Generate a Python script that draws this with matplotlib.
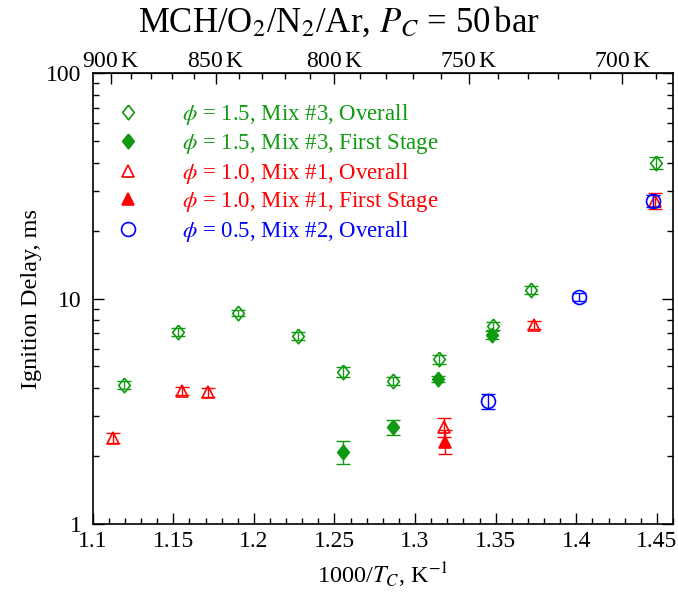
import numpy as np
import matplotlib
matplotlib.use("Agg")
import matplotlib.pyplot as plt
from matplotlib.lines import Line2D
from matplotlib.ticker import FixedLocator, MultipleLocator, NullFormatter, FuncFormatter, LogLocator

plt.rcParams['font.family'] = ['Liberation Serif', 'DejaVu Serif']
plt.rcParams['mathtext.fontset'] = 'stix'

# phi = 1.5, Mix #3, overall
x_g_all = [1.1194, 1.1528, 1.1900, 1.2271, 1.2550, 1.2864, 1.3147, 1.3481, 1.3720, 1.4495]
y_g_all = [4.13, 7.10, 8.63, 6.82, 4.72, 4.31, 5.39, 7.55, 10.9, 39.9]
e_g_all = [0.17, 0.28, 0.30, 0.30, 0.25, 0.18, 0.25, 0.30, 0.45, 2.4]

# phi = 1.5, Mix #3, first stage
x_g_first = [1.2550, 1.2864, 1.3144, 1.3480]
y_g_first = [2.09, 2.69, 4.40, 6.89]
e_g_first = [0.25, 0.20, 0.13, 0.28]

# phi = 1.0, Mix #1, overall
x_r_all = [1.1124, 1.1553, 1.1716, 1.3181, 1.3737, 1.4488]
y_r_all = [2.41, 3.90, 3.84, 2.70, 7.65, 27.2]
e_r_all = [0.12, 0.16, 0.19, 0.26, 0.30, 2.3]

# phi = 1.0, Mix #1, first stage
x_r_first = [1.3183]
y_r_first = [2.32]
e_r_first = [0.28]

# phi = 0.5, Mix #2, overall
x_b_all = [1.3452, 1.4019, 1.4478]
y_b_all = [3.51, 10.19, 27.1]
e_b_all = [0.28, 0.42, 1.7]

temp_ticks = [900, 850, 800, 750, 700]

GREEN = '#109a10'
RED = '#ff0000'
BLUE = '#0000ff'

# diamond a bit fatter than matplotlib's 'd'
DIAMOND = [(0, 1), (0.8, 0), (0, -1), (-0.8, 0), (0, 1)]

series = [
    (x_g_all, y_g_all, e_g_all, DIAMOND, GREEN, 'none', 10.5, r'$\phi$ = 1.5, Mix #3, Overall'),
    (x_g_first, y_g_first, e_g_first, DIAMOND, GREEN, GREEN, 10.5, r'$\phi$ = 1.5, Mix #3, First Stage'),
    (x_r_all, y_r_all, e_r_all, '^', RED, 'none', 9, r'$\phi$ = 1.0, Mix #1, Overall'),
    (x_r_first, y_r_first, e_r_first, '^', RED, RED, 9, r'$\phi$ = 1.0, Mix #1, First Stage'),
    (x_b_all, y_b_all, e_b_all, 'o', BLUE, 'none', 10, r'$\phi$ = 0.5, Mix #2, Overall'),
]

fig = plt.figure(figsize=(6.78, 5.96), dpi=100)
ax = fig.add_axes([0.1367, 0.1208, 0.8559, 0.7567])

handles = []
for xs, ys, es, mk, col, fc, ms, lab in series:
    ax.errorbar(xs, ys, yerr=es, fmt='none', ecolor=col, elinewidth=1.0,
                capsize=5, capthick=1.0)
    ax.plot(xs, ys, ls='none', marker=mk, mfc=fc, mec=col, ms=ms, mew=1.2)
    handles.append(Line2D([], [], ls='none', marker=mk, color=col, mfc=fc,
                          mec=col, ms=ms, mew=1.2, label=lab))

ax.set_yscale('log')
ax.set_xlim(1.1, 1.46)
ax.set_ylim(1, 100)

ax.xaxis.set_major_locator(FixedLocator([1.1, 1.15, 1.2, 1.25, 1.3, 1.35, 1.4, 1.45]))
ax.xaxis.set_minor_locator(MultipleLocator(0.01))
ax.xaxis.set_major_formatter(FuncFormatter(lambda v, p: ('%.2f' % v).rstrip('0')))
ax.yaxis.set_major_locator(FixedLocator([1, 10, 100]))
ax.yaxis.set_minor_locator(LogLocator(base=10, subs=np.arange(2, 10)))
ax.yaxis.set_major_formatter(FuncFormatter(lambda v, p: '%d' % v))
ax.yaxis.set_minor_formatter(NullFormatter())

ax.tick_params(which='both', direction='in', top=False, right=True, labelsize=17, width=1)
ax.tick_params(which='major', length=8)
ax.tick_params(which='minor', length=4.5)
ax.tick_params(axis='x', pad=5)
ax.tick_params(axis='y', pad=8)
for sp in ax.spines.values():
    sp.set_linewidth(1.2)

# temperature axis on top
sec = ax.secondary_xaxis('top', functions=(lambda v: 1000 / v, lambda v: 1000 / v))
sec.set_xticks(temp_ticks)
sec.set_xticklabels([r'%d$\,$K' % t for t in temp_ticks])
sec.xaxis.set_minor_locator(FixedLocator(np.arange(690, 910, 10)))
sec.tick_params(which='both', direction='in', labelsize=17, width=1, pad=1)
sec.tick_params(which='major', length=8)
sec.tick_params(which='minor', length=4.5)

ax.set_xlabel(r'1000/$T_C$, K$^{-1}$', fontsize=17.5, labelpad=6)
ax.set_ylabel('Ignition Delay, ms', fontsize=17.5, labelpad=3)
fig.suptitle(r'MCH/O$_2$/N$_2$/Ar, $P_C$ = 50$\,$bar', fontsize=25, y=0.962, va='center')

ax.legend(handles=handles, loc='upper left', bbox_to_anchor=(0.0255, 0.955), frameon=False,
          fontsize=16.5, labelcolor=[GREEN, GREEN, RED, RED, BLUE],
          handlelength=1.0, handletextpad=1.85, labelspacing=0.2, borderaxespad=0)

fig.savefig('out.png', dpi=100)
